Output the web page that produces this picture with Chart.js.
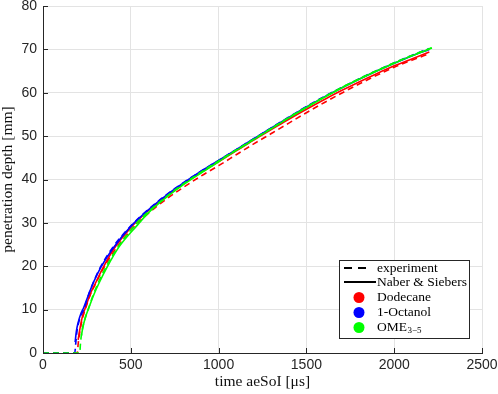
<!DOCTYPE html>
<html><head><meta charset="utf-8">
<script src="https://cdn.jsdelivr.net/npm/chart.js@4/dist/chart.umd.min.js"></script>
<style>html,body{margin:0;padding:0;background:#fff;}#wrap{width:498px;height:394px;}</style>
</head><body><div id="wrap"><canvas id="c" width="498" height="394"></canvas></div>
<script>
// ---- data ----
const xLabel = 'time aeSoI [\u03BCs]';
const yLabel = 'penetration depth [mm]';
const fuels = ['Dodecane', '1-Octanol', 'OME'];
const fuelColors = ['#ff0000', '#0000ff', '#00ff00'];
const styleLabels = ['experiment', 'Naber & Siebers'];

// experiment (dashed)
const tExpDod = [0,195,200,210,225,240,270,300,340,400,500,600,700,800,900,1000,1100,1200,1300,1400,1500,1600,1700,1800,1900,2000,2100,2200];
const sExpDod = [0,0,2,5,8,10,13.5,16,19.2,23.2,28.3,32.2,35.4,38.2,40.8,43.2,45.7,48.2,50.6,53,55.4,57.7,59.9,62,64,65.9,67.5,69];
const tExpOct = [0,181,186,192,200,215,232,260,289,327,400,500,600,700,800,900,1000,1100,1200,1300,1400,1500,1600,1700,1800,1900,2000,2100,2200];
const sExpOct = [0,0,2,4.5,6.5,8.5,10,13.5,16.5,19.8,24.5,29.3,33.1,36.4,39.3,41.9,44.4,46.9,49.4,51.9,54.4,56.8,59.1,61.2,63.2,65.1,66.9,68.6,70.2];
const tExpOME = [0,209,214,222,240,257,285,318,361,430,530,600,700,800,900,1000,1100,1200,1300,1400,1500,1600,1700,1800,1900,2000,2100,2215];
const sExpOME = [0,0,2.5,5,8,10,13.3,16.5,20,24.6,29.8,32.6,36,39,41.7,44.3,46.8,49.3,51.8,54.3,56.7,59,61.2,63.2,65.1,66.9,68.6,70.4];

// Naber & Siebers model (solid)
const tNSDod = [200,210,225,240,270,300,340,400,500,600,700,800,900,1000,1100,1200,1300,1400,1500,1600,1700,1800,1900,2000,2100,2200];
const sNSDod = [3,5.5,8.5,10.3,13.7,16.2,19.5,23.8,28.9,32.8,36.1,39,41.6,44.1,46.6,49.1,51.5,53.9,56.2,58.4,60.5,62.5,64.4,66.2,67.8,69.4];
const tNSOct = [183,190,200,215,232,260,290,330,400,500,600,700,800,900,1000,1100,1200,1300,1400,1500,1600,1700,1800,1900,2000,2100,2200];
const sNSOct = [2.5,5,7,9,10.5,13.5,16.5,19.8,24.2,29.2,33,36.3,39.2,41.9,44.4,46.9,49.4,51.9,54.3,56.7,59,61.1,63.1,65,66.8,68.5,70];
const tNSOME = [219,225,240,260,290,320,365,430,540,600,700,800,900,1000,1100,1200,1300,1400,1500,1600,1700,1800,1900,2000,2100,2215];
const sNSOME = [4,5.5,8,10.3,13.5,16.2,19.8,24.3,29.6,32.3,35.8,38.8,41.5,44.1,46.7,49.2,51.7,54.2,56.6,58.9,61.1,63.1,65,66.8,68.5,70.3];

const xMin = 0, xMax = 2500, xStep = 500;
const yMin = 0, yMax = 80, yStep = 10;

// ---- build ----
function pts(t, s){ return t.map((v,i)=>({x:v, y:s[i]})); }
const series = [
  {t:tExpDod, s:sExpDod, c:0, dash:true},
  {t:tExpOct, s:sExpOct, c:1, dash:true},
  {t:tExpOME, s:sExpOME, c:2, dash:true},
  {t:tNSDod, s:sNSDod, c:0, dash:false},
  {t:tNSOct, s:sNSOct, c:1, dash:false},
  {t:tNSOME, s:sNSOME, c:2, dash:false}
];
const drawOrder = [6,4,2,5,3,1]; // lower = on top
const datasets = series.map((d,i)=>({
  label: (d.dash?styleLabels[0]:styleLabels[1]) + ' ' + fuels[d.c],
  data: pts(d.t, d.s),
  borderColor: fuelColors[d.c],
  backgroundColor: fuelColors[d.c],
  borderWidth: 1.6,
  borderDash: d.dash ? [6,4] : [],
  pointRadius: 0,
  fill: false,
  cubicInterpolationMode: 'monotone',
  order: drawOrder[i]
}));

const axisColor = '#262626';
const gridColor = '#e3e3e3';

const insideTicks = {
  id: 'insideTicks',
  afterDraw(chart){
    const ctx = chart.ctx, xs = chart.scales.x, ys = chart.scales.y, a = chart.chartArea;
    ctx.save();
    ctx.strokeStyle = axisColor; ctx.lineWidth = 1;
    ctx.beginPath();
    xs.ticks.forEach(t=>{ const px = Math.round(xs.getPixelForValue(t.value))+0.5; ctx.moveTo(px, a.bottom); ctx.lineTo(px, a.bottom-5); });
    ys.ticks.forEach(t=>{ const py = Math.round(ys.getPixelForValue(t.value))+0.5; ctx.moveTo(a.left, py); ctx.lineTo(a.left+5, py); });
    ctx.stroke();
    ctx.restore();
  }
};

const legendBox = {
  id: 'legendBox',
  afterDraw(chart){
    const ctx = chart.ctx, a = chart.chartArea;
    const bx = a.right - 143, by = a.bottom - 93, bw = 130, bh = 78;
    ctx.save();
    ctx.fillStyle = '#fff'; ctx.fillRect(bx, by, bw, bh);
    ctx.strokeStyle = axisColor; ctx.lineWidth = 1;
    ctx.strokeRect(Math.round(bx)+0.5, Math.round(by)+0.5, bw, bh);
    const rowY = [by+8, by+22, by+37.5, by+52.5, by+67.5];
    const tx = bx + 38;
    ctx.font = '13.5px "Liberation Serif", "DejaVu Serif", serif';
    ctx.fillStyle = '#000'; ctx.textBaseline = 'middle'; ctx.textAlign = 'left';
    ctx.strokeStyle = '#000'; ctx.lineWidth = 2;
    ctx.setLineDash([8,6]);
    ctx.beginPath(); ctx.moveTo(bx+5, rowY[0]); ctx.lineTo(bx+28, rowY[0]); ctx.stroke();
    ctx.setLineDash([]);
    ctx.beginPath(); ctx.moveTo(bx+5, rowY[1]); ctx.lineTo(bx+37, rowY[1]); ctx.stroke();
    ctx.fillText(styleLabels[0], tx, rowY[0]);
    ctx.fillText(styleLabels[1], tx, rowY[1]);
    for (let i=0;i<3;i++){
      const y = rowY[2+i];
      ctx.fillStyle = fuelColors[i];
      ctx.beginPath(); ctx.arc(bx+20, y, 5.5, 0, Math.PI*2); ctx.fill();
      ctx.fillStyle = '#000';
      ctx.fillText(fuels[i], tx, y);
    }
    const w = ctx.measureText(fuels[2]).width;
    ctx.font = '9px "Liberation Serif", "DejaVu Serif", serif';
    ctx.fillText('3\u22125', tx + w + 0.5, rowY[4] + 3.5);
    ctx.restore();
  }
};

const tickFont = { family: '"Liberation Sans", Arial, sans-serif', size: 14 };
const titleFont = { family: '"Liberation Serif", "DejaVu Serif", serif', size: 15.5, lineHeight: 1.0 };
new Chart(document.getElementById('c'), {
  type: 'line',
  data: { datasets },
  options: {
    responsive: false,
    devicePixelRatio: 1,
    animation: false,
    events: [],
    layout: { padding: { left: 0, right: 16, top: 6, bottom: 0 } },
    plugins: { legend: { display: false }, tooltip: { enabled: false } },
    scales: {
      x: {
        type: 'linear', min: xMin, max: xMax,
        ticks: { stepSize: xStep, color: axisColor, padding: 4, maxRotation: 0, font: tickFont,
                 callback: v => String(v) },
        grid: { color: gridColor, drawTicks: false, lineWidth: 1 },
        border: { display: true, color: axisColor, width: 1 },
        title: { display: true, text: xLabel, color: '#111', padding: { top: 0, bottom: 4 }, font: titleFont },
        afterFit(s){ s.height = 41; s.paddingLeft = 0; s.paddingRight = 0; }
      },
      y: {
        type: 'linear', min: yMin, max: yMax,
        ticks: { stepSize: yStep, color: axisColor, padding: 6, font: tickFont,
                 callback: v => String(v) },
        grid: { color: gridColor, drawTicks: false, lineWidth: 1 },
        border: { display: true, color: axisColor, width: 1 },
        title: { display: true, text: yLabel, color: '#111', padding: { top: 0, bottom: 0 }, font: titleFont },
        afterFit(s){ s.width = 43; s.paddingTop = 0; s.paddingBottom = 0; }
      }
    }
  },
  plugins: [insideTicks, legendBox]
});
</script>
</body></html>
